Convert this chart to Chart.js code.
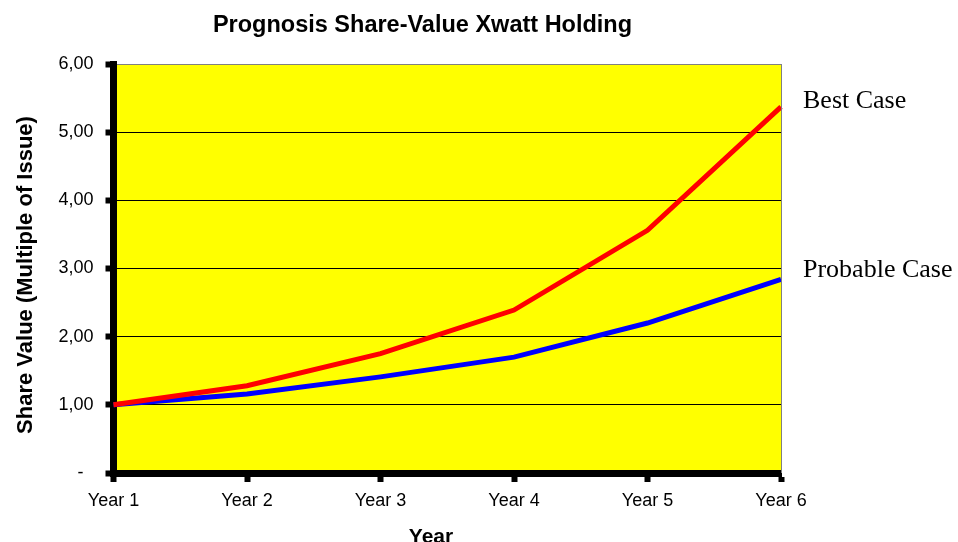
<!DOCTYPE html>
<html>
<head>
<meta charset="utf-8">
<script src="https://cdn.jsdelivr.net/npm/chart.js@4/dist/chart.umd.min.js"></script>
<style>
  html, body { margin: 0; padding: 0; background: #fff; }
  #wrap { width: 958px; height: 542px; }
</style>
</head>
<body>
<div id="wrap"><canvas id="c" width="958" height="542"></canvas></div>
<script>
const categories = ['Year 1', 'Year 2', 'Year 3', 'Year 4', 'Year 5', 'Year 6'];
const bestCase = [1.00, 1.28, 1.75, 2.39, 3.56, 5.37];
const probableCase = [1.00, 1.16, 1.41, 1.70, 2.20, 2.84];
const seriesNames = ['Best Case', 'Probable Case'];
const yTickValues = [0, 1, 2, 3, 4, 5, 6];
const chartTitle = 'Prognosis Share-Value Xwatt Holding';
const xAxisTitle = 'Year';
const yAxisTitle = 'Share Value (Multiple of Issue)';

const SANS = '"Liberation Sans", Arial, sans-serif';
const SERIF = '"Liberation Serif", "Times New Roman", serif';

const decorPlugin = {
  id: 'decor',
  beforeDraw(chart) {
    const {ctx, chartArea: a} = chart;
    ctx.save();
    ctx.fillStyle = '#FFFF00';
    ctx.fillRect(a.left, a.top, a.right - a.left, a.bottom - a.top);
    ctx.restore();
  },
  afterDatasetsDraw(chart) {
    const {ctx, chartArea: a} = chart;
    ctx.save();
    ctx.strokeStyle = '#808080';
    ctx.lineWidth = 1;
    ctx.beginPath();
    ctx.moveTo(Math.round(a.right) + 0.5, a.top);
    ctx.lineTo(Math.round(a.right) + 0.5, a.bottom);
    ctx.stroke();
    ctx.restore();
  },
  afterDraw(chart) {
    const {ctx, chartArea: a, scales} = chart;
    ctx.save();
    ctx.fillStyle = '#000';
    // main title
    ctx.font = 'bold 23.5px ' + SANS;
    ctx.textAlign = 'center';
    ctx.textBaseline = 'alphabetic';
    ctx.fillText(chartTitle, 422.5, 32);
    // x axis title
    ctx.font = 'bold 21px ' + SANS;
    ctx.fillText(xAxisTitle, 431, 543);
    // y axis title
    ctx.font = 'bold 22px ' + SANS;
    ctx.save();
    ctx.translate(32, 275);
    ctx.rotate(-Math.PI / 2);
    ctx.fillText(yAxisTitle, 0, 0);
    ctx.restore();
    // series end labels
    ctx.font = '26px ' + SERIF;
    ctx.textAlign = 'left';
    const yS = scales.y;
    const offs = [1, -2.5];
    chart.data.datasets.forEach((ds, i) => {
      const v = ds.data[ds.data.length - 1];
      ctx.fillText(ds.label, a.right + 22, yS.getPixelForValue(v) + offs[i]);
    });
    ctx.restore();
  }
};

new Chart(document.getElementById('c'), {
  type: 'line',
  data: {
    labels: categories,
    datasets: [
      { label: seriesNames[0], data: bestCase, borderColor: '#FF0000', borderWidth: 5, pointRadius: 0, tension: 0, fill: false },
      { label: seriesNames[1], data: probableCase, borderColor: '#0000FF', borderWidth: 5, pointRadius: 0, tension: 0, fill: false }
    ]
  },
  options: {
    responsive: false,
    animation: false,
    devicePixelRatio: 1,
    layout: { padding: { top: 64, right: 177, left: 0, bottom: 0 } },
    plugins: { legend: { display: false }, title: { display: false }, tooltip: { enabled: false } },
    scales: {
      x: {
        offset: false,
        grid: { drawOnChartArea: false, drawTicks: true, tickLength: 9, tickWidth: 6, tickColor: '#000' },
        border: { display: true, color: '#000', width: 7 },
        ticks: { color: '#000', padding: 8, font: { family: SANS, size: 18 }, maxRotation: 0, autoSkip: false },
        afterFit: (s) => { s.height = 69; }
      },
      y: {
        min: 0, max: 6,
        afterBuildTicks: (s) => { s.ticks = yTickValues.map(v => ({ value: v })); },
        grid: {
          color: (c) => (c.tick && c.tick.value === 6) ? '#808080' : '#000',
          lineWidth: 1, tickLength: 8, tickWidth: 6, tickColor: '#000'
        },
        border: { display: true, color: '#000', width: 7 },
        ticks: {
          color: '#000', padding: 12, font: { family: SANS, size: 18 },
          callback: (v) => v === 0 ? '-  ' : v.toFixed(2).replace('.', ',')
        },
        afterFit: (s) => { s.width = 113.5; }
      }
    }
  },
  plugins: [decorPlugin]
});
</script>
</body>
</html>
